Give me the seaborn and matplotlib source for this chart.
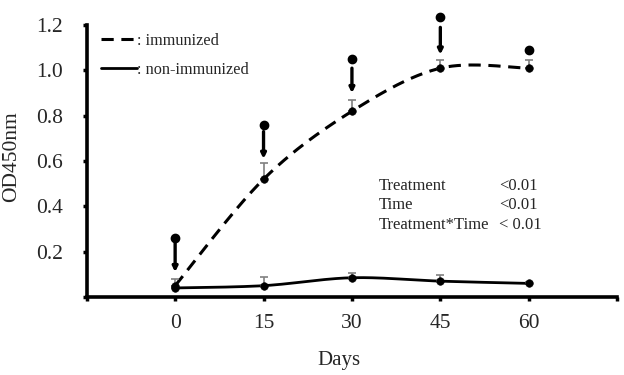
import numpy as np
import pandas as pd
import matplotlib
matplotlib.use("Agg")
import matplotlib.pyplot as plt
import seaborn as sns

# ---- data ----
days = [0, 15, 30, 45, 60]
immunized = [0.05, 0.52, 0.82, 1.01, 1.01]
immunized_err = [0.03, 0.07, 0.05, 0.035, 0.035]
non_immunized = [0.04, 0.05, 0.085, 0.07, 0.06]
non_immunized_err = [0.01, 0.04, 0.02, 0.025, 0.005]
sig_mark = [0.26, 0.76, 1.05, 1.235, 1.09]
arrow_top = [0.24, 0.73, 1.01, 1.19, None]
arrow_tip = [0.11, 0.61, 0.90, 1.07, None]
xtick_vals = [-15, 0, 15, 30, 45, 60, 75]
xtick_labels = ["", "0", "15", "30", "45", "60", ""]
ytick_vals = [0, 0.2, 0.4, 0.6, 0.8, 1.0, 1.2]
ytick_labels = ["", "0.2", "0.4", "0.6", "0.8", "1.0", "1.2"]
stats_names = ["Treatment", "Time", "Treatment*Time"]
stats_p = ["<0.01", "<0.01", "< 0.01"]
stats_y = [0.49, 0.405, 0.318]


def smooth(x, y, n=40):
    """Excel-like smoothed line (Bezier with Catmull-Rom control points)."""
    p = np.column_stack([x, y]).astype(float)
    p = np.vstack([p[0], p, p[-1]])
    out = []
    for i in range(1, len(p) - 2):
        p0, p1, p2, p3 = p[i - 1], p[i], p[i + 1], p[i + 2]
        c1 = p1 + (p2 - p0) / 6.0
        c2 = p2 - (p3 - p1) / 6.0
        t = np.linspace(0, 1, n)[:, None]
        seg = ((1 - t) ** 3) * p1 + 3 * ((1 - t) ** 2) * t * c1 + 3 * (1 - t) * t ** 2 * c2 + t ** 3 * p2
        out.append(seg if i == 1 else seg[1:])
    s = np.vstack(out)
    return s[:, 0], s[:, 1]


sns.set_theme(style="white")
plt.rcParams["font.family"] = ["Liberation Serif", "DejaVu Serif"]

fig = plt.figure(figsize=(6.24, 3.75), dpi=100)
ax = fig.add_axes([0.139, 0.208, 0.85, 0.725])

# smoothed lines
sx, sy = smooth(days, immunized)
df_i = pd.DataFrame({"x": sx, "y": sy})
sns.lineplot(data=df_i, x="x", y="y", ax=ax, sort=False, estimator=None,
             color="black", linewidth=2.2, linestyle=(0, (4, 2.5)),
             label=": immunized")
nx, ny = smooth(days, non_immunized)
df_n = pd.DataFrame({"x": nx, "y": ny})
sns.lineplot(data=df_n, x="x", y="y", ax=ax, sort=False, estimator=None,
             color="black", linewidth=2.0, label=": non-immunized")

# error bars (upper only, grey)
ax.errorbar(days, immunized, yerr=[np.zeros(len(days)), immunized_err],
            fmt="none", ecolor="#808080", elinewidth=1.2, capsize=3, capthick=1.2, zorder=3)
ax.errorbar(days, non_immunized, yerr=[np.zeros(len(days)), non_immunized_err],
            fmt="none", ecolor="#808080", elinewidth=1.2, capsize=3, capthick=1.2, zorder=3)

# data point markers
sns.scatterplot(x=days, y=immunized, ax=ax, color="black", s=30, edgecolor="black", zorder=4)
sns.scatterplot(x=days, y=non_immunized, ax=ax, color="black", s=30, edgecolor="black", zorder=4)

# significance markers and arrows
for d, m, a0, a1 in zip(days, sig_mark, arrow_top, arrow_tip):
    ax.plot([d], [m], marker="o", markersize=6, color="black", clip_on=False, zorder=5)
    if a0 is not None:
        ax.annotate("", xy=(d, a1), xytext=(d, a0),
                    arrowprops=dict(arrowstyle="-|>", color="black", lw=2.4,
                                    mutation_scale=7, shrinkA=0, shrinkB=0),
                    annotation_clip=False)

# stats text
for nm, pv, yy in zip(stats_names, stats_p, stats_y):
    ax.text(34.6, yy, nm, fontsize=12, va="center", ha="left")
    ax.text(55.0, yy, pv, fontsize=12, va="center", ha="left")

ax.set_xlim(-15, 75)
ax.set_ylim(0, 1.2)
ax.set_xticks(xtick_vals)
ax.set_xticklabels(xtick_labels)
ax.set_yticks(ytick_vals)
ax.set_yticklabels(ytick_labels)
ax.tick_params(axis="both", which="major", labelsize=15.5, direction="out",
               length=3, width=2.5, color="black", bottom=True, left=True)
ax.tick_params(axis="y", pad=14)
ax.tick_params(axis="x", pad=9)
ax.set_xlabel("Days", fontsize=15)
ax.set_ylabel("OD450nm", fontsize=15.5)
ax.xaxis.set_label_coords(0.475, -0.2)
ax.yaxis.set_label_coords(-0.123, 0.518)

for side in ["top", "right"]:
    ax.spines[side].set_visible(False)
for side in ["left", "bottom"]:
    ax.spines[side].set_color("black")
    ax.spines[side].set_linewidth(2.6)

leg = ax.legend(loc="upper left", bbox_to_anchor=(0.0, 1.025), frameon=False,
                handlelength=2.2, handletextpad=0.0, fontsize=11.7, labelspacing=0.8)

fig.savefig("out.png", dpi=100)
